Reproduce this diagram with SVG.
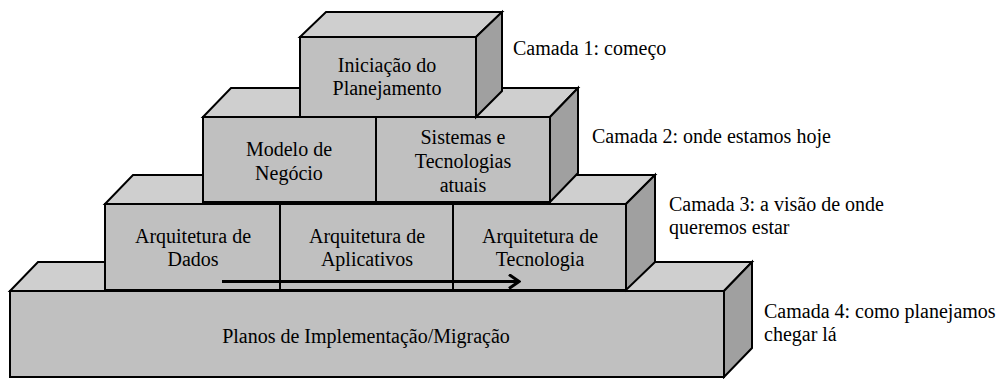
<svg xmlns="http://www.w3.org/2000/svg" width="1000" height="379" viewBox="0 0 1000 379">
<style>
.front{fill:#c0c0c0;stroke:#000;stroke-width:2;stroke-linejoin:miter}
.top{fill:#cfcfcf;stroke:#000;stroke-width:2;stroke-linejoin:miter}
.side{fill:#a0a0a0;stroke:#000;stroke-width:2;stroke-linejoin:miter}
.div{stroke:#000;stroke-width:2}
text{font-family:'Liberation Serif','Times New Roman',serif;font-size:20px;fill:#000}
.c{text-anchor:middle}
</style>
<defs>
<marker id="chev" viewBox="0 0 14 16" refX="12" refY="8" markerWidth="14" markerHeight="16" markerUnits="userSpaceOnUse" orient="auto">
<polyline points="2,1 12,8 2,15" fill="none" stroke="#000" stroke-width="3"/>
</marker>
</defs>
<rect width="1000" height="379" fill="#fff"/>
<g id="layer4">
<polygon class="top" points="10,291 38,262 752,262 724,291"/>
<polygon class="side" points="724,291 752,262 752,348 724,377"/>
<rect class="front" x="10" y="291" width="714" height="86"/>
<text class="c" x="366" y="343">Planos de Implementação/Migração</text>
</g>
<g id="layer3">
<polygon class="top" points="105,204 133,175 655,175 626,204"/>
<polygon class="side" points="626,204 655,175 655,262 626,290"/>
<rect class="front" x="105" y="204" width="521" height="86"/>
<line class="div" x1="280" y1="204" x2="280" y2="290"/>
<line class="div" x1="453" y1="204" x2="453" y2="290"/>
</g>
<g id="arq-dados">
<text class="c" x="193" y="243">Arquitetura de</text>
<text class="c" x="193" y="266">Dados</text>
</g>
<g id="arq-aplicativos">
<text class="c" x="367" y="243">Arquitetura de</text>
<text class="c" x="367" y="266">Aplicativos</text>
</g>
<g id="arq-tecnologia">
<text class="c" x="540" y="243">Arquitetura de</text>
<text class="c" x="540" y="266">Tecnologia</text>
</g>
<g id="layer2">
<polygon class="top" points="203,117 231,88 578,88 550,117"/>
<polygon class="side" points="550,117 578,88 578,173 550,202"/>
<rect class="front" x="203" y="117" width="347" height="85"/>
<line class="div" x1="376" y1="117" x2="376" y2="202"/>
</g>
<g id="modelo-negocio">
<text class="c" x="289" y="156">Modelo de</text>
<text class="c" x="289" y="180">Negócio</text>
</g>
<g id="sistemas-tecnologias">
<text class="c" x="463" y="144">Sistemas e</text>
<text class="c" x="463" y="168">Tecnologias</text>
<text class="c" x="463" y="192">atuais</text>
</g>
<g id="layer1">
<polygon class="top" points="300,37 326,12 502,12 476,37"/>
<polygon class="side" points="476,37 502,12 502,91 476,117"/>
<rect class="front" x="300" y="37" width="176" height="80"/>
<text class="c" x="387" y="72">Iniciação do</text>
<text class="c" x="387" y="95">Planejamento</text>
</g>
<g id="connectors">
<line x1="222" y1="281.5" x2="519" y2="281.5" stroke="#000" stroke-width="3" marker-end="url(#chev)"/>
</g>
<g id="labels">
<text x="513" y="55">Camada 1: começo</text>
<text x="592" y="143">Camada 2: onde estamos hoje</text>
<text x="669" y="211">Camada 3: a visão de onde</text>
<text x="669" y="234">queremos estar</text>
<text x="764" y="318">Camada 4: como planejamos</text>
<text x="764" y="341">chegar lá</text>
</g>
</svg>
